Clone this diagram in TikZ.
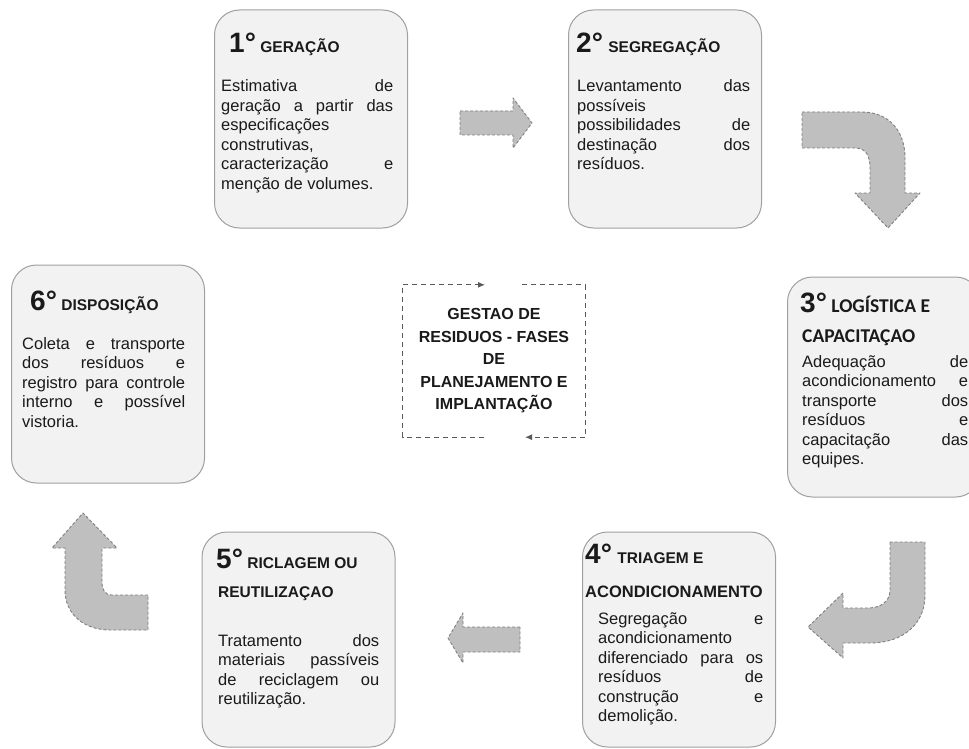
\documentclass[tikz,border=0pt]{standalone}
\usepackage{fontspec}
\setmainfont{Liberation Sans}
\newfontfamily\calibrif{Carlito}
\usetikzlibrary{arrows.meta}
\definecolor{boxfill}{HTML}{F2F2F2}
\definecolor{boxline}{HTML}{A0A0A0}
\definecolor{setafill}{HTML}{BFBFBF}
\definecolor{setaline}{HTML}{808080}
\definecolor{txt}{HTML}{1A1A1A}
\begin{document}
\begin{tikzpicture}[x=1pt,y=-1pt,line join=round,text=txt,
	caixa/.style={draw=boxline,fill=boxfill,line width=1pt,rounded corners=25pt,inner sep=0pt},
	seta/.style={fill=setafill,draw=setaline,line width=0.9pt,dash pattern=on 3pt off 2pt},
	num/.style={inner sep=0pt,anchor=base west,font=\fontsize{28}{30}\selectfont\bfseries},
	tit/.style={inner sep=0pt,anchor=base west,font=\fontsize{15.5}{31}\selectfont\bfseries},
	corpo/.style={inner sep=0pt,anchor=base west,align=justify,font=\fontsize{16.5}{19.5}\selectfont},
	ciclo/.style={draw=black!65,line width=1.1pt,dash pattern=on 5pt off 4pt,-{Latex[length=7pt,width=6pt]}}]
	\useasboundingbox (0,0) rectangle (969,749);
	\clip (0,0) rectangle (969,749);
	\fill[white] (0,0) rectangle (969,749);
	% caixas das fases
	\foreach \n/\x/\y/\h in {f1/311/119/218,f2/665/119/218,f3/884/387/220,
		f4/679/639.5/215,f5/298.5/639.5/215,f6/108/374/218
	}{\node[caixa,minimum width=193pt,minimum height=\h pt] (\n) at (\x,\y) {};}
	% setas
	\draw[seta] (460,111) -- (513,111) -- (513,98) -- (532,123) -- (513,148) -- (513,135) -- (460,135) -- cycle;
	\draw[seta] (802,112) -- (862,112) .. controls (888,112) and (905,130) .. (905,158) -- (905,193) -- (920,193)
		-- (888,228) -- (855,193) -- (870,193) -- (870,168) .. controls (870,156) and (866,148) .. (855,148) -- (802,148) -- cycle;
	\draw[seta] (890,542) -- (890,590) .. controls (890,602) and (880,608) .. (868,608) -- (843,608) -- (843,593)
		-- (808,627) -- (843,658) -- (843,643) -- (870,643) .. controls (902,643) and (925,625) .. (925,595) -- (925,542) -- cycle;
	\draw[seta] (520,627) -- (463,627) -- (463,613) -- (448,638) -- (463,663) -- (463,652) -- (520,652) -- cycle;
	\draw[seta] (148,595) -- (112,595) .. controls (105,595) and (102,590) .. (102,582) -- (102,548) -- (117,548)
		-- (83,513) -- (52,548) -- (65,548) -- (65,590) .. controls (65,615) and (85,630) .. (110,630) -- (148,630) -- cycle;
	% centro
	\node[inner sep=0pt,minimum width=182pt,minimum height=152pt,align=center,
		font=\fontsize{16}{22.5}\selectfont\bfseries] (gestao) at (494,361)
		{GESTAO DE\\RESIDUOS - FASES\\DE\\PLANEJAMENTO E\\IMPLANTAÇÃO};
	\draw[ciclo] ([xshift=-10pt]gestao.south) -| (gestao.north west) -- ([xshift=-9pt]gestao.north);
	\draw[ciclo] ([xshift=28pt]gestao.north) -| (gestao.south east) -- ([xshift=31pt]gestao.south);
	% 1
	\node[num] (n1) at (229,53) {1°};
	\node[tit] (t1) at ([xshift=4pt]n1.base east) {GERAÇÃO};
	\node[corpo,text width=172pt] (c1) at (221,92) {Estimativa de\linebreak geração a partir das\linebreak
		especificações\newline construtivas,\newline caracterização e\linebreak menção de volumes.};
	% 2
	\node[num] (n2) at (576,53) {2°};
	\node[tit] (t2) at ([xshift=5pt]n2.base east) {SEGREGAÇÃO};
	\node[corpo,text width=173pt] (c2) at (577,92) {Levantamento das\linebreak possíveis\newline
		possibilidades de\linebreak destinação dos\linebreak resíduos.};
	% 3
	\node[num] (n3) at (800,312) {3°};
	\node[tit,font=\calibrif\fontsize{19.5}{24}\selectfont\bfseries] (t3) at ([xshift=4pt]n3.base east) {LOGÍSTICA E};
	\node[tit,font=\calibrif\fontsize{19.5}{24}\selectfont\bfseries] (t3b) at (802,342) {CAPACITAÇAO};
	\node[corpo,text width=166pt] (c3) at (802,367) {Adequação de\linebreak acondicionamento e\linebreak
		transporte dos\linebreak resíduos e\linebreak capacitação das\linebreak equipes.};
	% 4
	\node[num] (n4) at (585,563) {4°};
	\node[tit] (t4) at ([xshift=5pt]n4.base east) {TRIAGEM E};
	\node[tit,font=\fontsize{16.5}{20}\selectfont\bfseries] (t4b) at (585,597) {ACONDICIONAMENTO};
	\node[corpo,text width=165pt] (c4) at (598,624) {Segregação e\linebreak acondicionamento\newline
		diferenciado para os\linebreak resíduos de\linebreak construção e\linebreak demolição.};
	% 5
	\node[num] (n5) at (216,568) {5°};
	\node[tit] (t5) at ([xshift=4pt]n5.base east) {RICLAGEM OU};
	\node[tit] (t5b) at (218,597) {REUTILIZAÇAO};
	\node[corpo,text width=161pt] (c5) at (218,646) {Tratamento dos\linebreak materiais passíveis\linebreak
		de reciclagem ou\linebreak reutilização.};
	% 6
	\node[num] (n6) at (30,310) {6°};
	\node[tit] (t6) at ([xshift=4pt]n6.base east) {DISPOSIÇÃO};
	\node[corpo,text width=163pt] (c6) at (22,349) {Coleta e transporte\linebreak dos resíduos e\linebreak
		registro para controle\linebreak interno e possível\linebreak vistoria.};
\end{tikzpicture}
\end{document}
